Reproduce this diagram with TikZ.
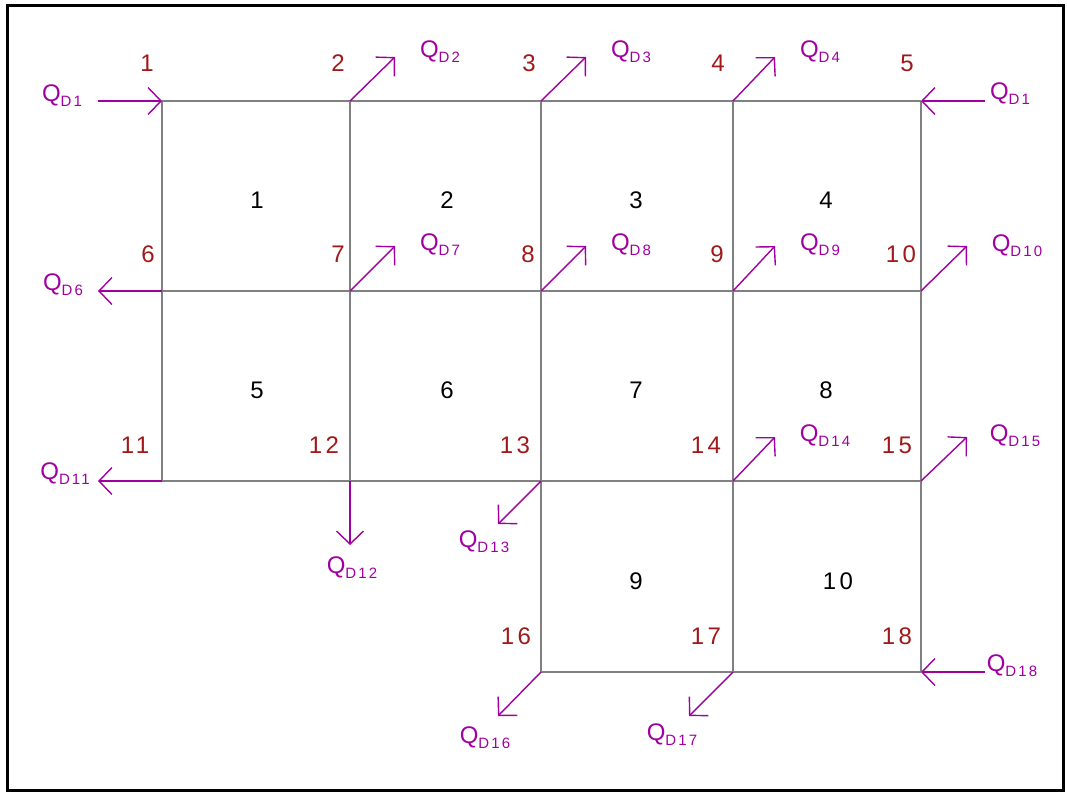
\documentclass[tikz,border=0pt]{standalone}
\usepackage{fontspec}
\setmainfont{Liberation Sans}
\newfontfamily\spacedfont[LetterSpace=14]{Liberation Sans}
\usetikzlibrary{arrows.meta}
\definecolor{gridgray}{RGB}{128,128,128}
\definecolor{flowc}{RGB}{160,0,160}
\definecolor{numc}{RGB}{160,24,24}
\tikzset{
  gridline/.style={draw=gridgray, line width=2pt},
  flow/.style={draw=flowc, line width=1.4pt, -{Straight Barb[length=13pt,width=27pt,line width=1.4pt]}},
  nodenum/.style={text=numc, font=\spacedfont\fontsize{24}{24}\selectfont, inner sep=0pt},
  cellnum/.style={text=black, font=\spacedfont\fontsize{24}{24}\selectfont, inner sep=0pt},
  qlab/.style={text=flowc, font=\fontsize{24}{24}\selectfont, inner sep=0pt},
}
\newcommand{\qd}[1]{Q\raisebox{-5pt}{\spacedfont\fontsize{15}{15}\selectfont D#1}}
\begin{document}
\begin{tikzpicture}[x=1pt,y=-1pt]
\useasboundingbox (0,0) rectangle (1067,793);
\draw[line width=3pt] (7,5) rectangle (1063,790);
% grid points
\coordinate (n1) at (162,101);
\coordinate (n2) at (350,101);
\coordinate (n3) at (541,101);
\coordinate (n4) at (733,101);
\coordinate (n5) at (921,101);
\coordinate (n6) at (162,291);
\coordinate (n7) at (350,291);
\coordinate (n8) at (541,291);
\coordinate (n9) at (733,291);
\coordinate (n10) at (921,291);
\coordinate (n11) at (162,481);
\coordinate (n12) at (350,481);
\coordinate (n13) at (541,481);
\coordinate (n14) at (733,481);
\coordinate (n15) at (921,481);
\coordinate (n16) at (541,672);
\coordinate (n17) at (733,672);
\coordinate (n18) at (921,672);
% grid
\draw[gridline] (n1) -- (n5);
\draw[gridline] (n6) -- (n10);
\draw[gridline] (n11) -- (n15);
\draw[gridline] (n16) -- (n18);
\draw[gridline] (n1) -- (n11);
\draw[gridline] (n2) -- (n12);
\draw[gridline] (n3) -- (n16);
\draw[gridline] (n4) -- (n17);
\draw[gridline] (n5) -- (n18);
% cell numbers
\node[cellnum] (c1) at (257,200) {1};
\node[cellnum] (c2) at (447,200) {2};
\node[cellnum] (c3) at (636,200) {3};
\node[cellnum] (c4) at (826,200) {4};
\node[cellnum] (c5) at (257,390) {5};
\node[cellnum] (c6) at (447,390) {6};
\node[cellnum] (c7) at (636,390) {7};
\node[cellnum] (c8) at (826,390) {8};
\node[cellnum] (c9) at (636,581) {9};
\node[cellnum] (c10) at (838,581) {10};
% node numbers
\node[nodenum] (l1) at (147,63) {1};
\node[nodenum] (l2) at (338,63) {2};
\node[nodenum] (l3) at (529,63) {3};
\node[nodenum] (l4) at (718,63) {4};
\node[nodenum] (l5) at (907,63) {5};
\node[nodenum] (l6) at (148,254) {6};
\node[nodenum] (l7) at (338,254) {7};
\node[nodenum] (l8) at (528,254) {8};
\node[nodenum] (l9) at (717,254) {9};
\node[nodenum] (l10) at (901,254) {10};
\node[nodenum] (l11) at (135,445) {11};
\node[nodenum] (l12) at (324,445) {12};
\node[nodenum] (l13) at (515,445) {13};
\node[nodenum] (l14) at (706,445) {14};
\node[nodenum] (l15) at (897,445) {15};
\node[nodenum] (l16) at (516,636) {16};
\node[nodenum] (l17) at (706,636) {17};
\node[nodenum] (l18) at (897,636) {18};
% flow arrow free ends
\coordinate (e1) at (98,101);
\coordinate (e2) at (395,57);
\coordinate (e3) at (586,57);
\coordinate (e4) at (775,57);
\coordinate (e5) at (985,101);
\coordinate (e6) at (98,291);
\coordinate (e7) at (395,246);
\coordinate (e8) at (586,246);
\coordinate (e9) at (775,246);
\coordinate (e10) at (967,246);
\coordinate (e11) at (98,481);
\coordinate (e12) at (350,545);
\coordinate (e13) at (498,524);
\coordinate (e14) at (775,437);
\coordinate (e15) at (967,437);
\coordinate (e16) at (498,716);
\coordinate (e17) at (689,716);
\coordinate (e18) at (985,672);
% flows
\draw[flow] (e1) -- (n1);
\draw[flow] (n2) -- (e2);
\draw[flow] (n3) -- (e3);
\draw[flow] (n4) -- (e4);
\draw[flow] (e5) -- (n5);
\draw[flow] (n6) -- (e6);
\draw[flow] (n7) -- (e7);
\draw[flow] (n8) -- (e8);
\draw[flow] (n9) -- (e9);
\draw[flow] (n10) -- (e10);
\draw[flow] (n11) -- (e11);
\draw[flow] (n12) -- (e12);
\draw[flow] (n13) -- (e13);
\draw[flow] (n14) -- (e14);
\draw[flow] (n15) -- (e15);
\draw[flow] (n16) -- (e16);
\draw[flow] (n17) -- (e17);
\draw[flow] (e18) -- (n18);
% flow labels
\node[qlab] (q1) at (62,96) {\qd{1}};
\node[qlab] (q2) at (440,52) {\qd{2}};
\node[qlab] (q3) at (631,52) {\qd{3}};
\node[qlab] (q4) at (820,52) {\qd{4}};
\node[qlab] (q5) at (1010,94) {\qd{1}};
\node[qlab] (q6) at (63,285) {\qd{6}};
\node[qlab] (q7) at (440,245) {\qd{7}};
\node[qlab] (q8) at (631,245) {\qd{8}};
\node[qlab] (q9) at (820,245) {\qd{9}};
\node[qlab] (q10) at (1017,246) {\qd{10}};
\node[qlab] (q11) at (65,474) {\qd{11}};
\node[qlab] (q12) at (352,568) {\qd{12}};
\node[qlab] (q13) at (484,542) {\qd{13}};
\node[qlab] (q14) at (825,436) {\qd{14}};
\node[qlab] (q15) at (1015,436) {\qd{15}};
\node[qlab] (q16) at (485,738) {\qd{16}};
\node[qlab] (q17) at (672,735) {\qd{17}};
\node[qlab] (q18) at (1012,666) {\qd{18}};
\end{tikzpicture}
\end{document}
